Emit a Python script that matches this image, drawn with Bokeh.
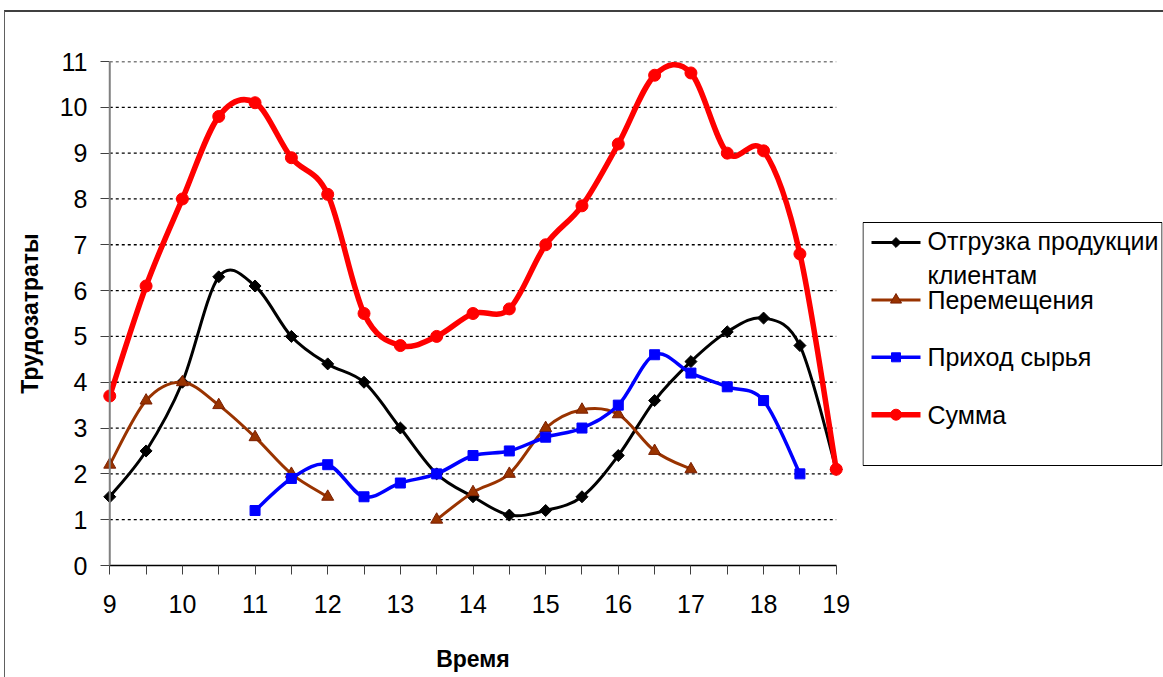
import math
from bokeh.plotting import figure
from bokeh.layouts import row
from bokeh.models import Range1d, FixedTicker, ColumnDataSource, Span
from bokeh.core.properties import value
from bokeh.embed import file_html
from bokeh.resources import INLINE

NaN = float("nan")

# ---- data -------------------------------------------------------------
X = [9, 9.5, 10, 10.5, 11, 11.5, 12, 12.5, 13, 13.5, 14, 14.5, 15, 15.5,
     16, 16.5, 17, 17.5, 18, 18.5, 19]
SHIPMENT = [1.5, 2.5, 4.0, 6.3, 6.1, 5.0, 4.4, 4.0, 3.0, 2.0, 1.5, 1.1, 1.2, 1.5,
            2.4, 3.6, 4.45, 5.1, 5.4, 4.8, 2.1]
MOVES = [2.2, 3.6, 4.0, 3.5, 2.8, 2.0, 1.5, NaN, NaN, 1.0, 1.6, 2.0, 3.0, 3.4,
         3.3, 2.5, 2.1, NaN, NaN, NaN, NaN]
SUPPLY = [NaN, NaN, NaN, NaN, 1.2, 1.9, 2.2, 1.5, 1.8, 2.0, 2.4, 2.5, 2.8, 3.0,
          3.5, 4.6, 4.2, 3.9, 3.6, 2.0, NaN]
TOTAL = [3.7, 6.1, 8.0, 9.8, 10.1, 8.9, 8.1, 5.5, 4.8, 5.0, 5.5, 5.6, 7.0, 7.85,
         9.2, 10.7, 10.75, 9.0, 9.05, 6.8, 2.1]

NAMES = ["Отгрузка продукции\nклиентам", "Перемещения", "Приход сырья", "Сумма"]
X_TICKS = list(range(9, 20))
Y_TICKS = list(range(0, 12))
X_LABEL = "Время"
Y_LABEL = "Трудозатраты"

FONT = "Liberation Sans"

# style per series: line colour, line width, marker, size, angle, fill, edge
STYLES = [
    ("black", 3, "square", 8.5, 45, "black", "black"),
    ("#993300", 3, "triangle", 12, 0, "#993300", "#7a1f00"),
    ("#0000FF", 3.5, "square", 10, 0, "#0000FF", "#0000FF"),
    ("#FF0000", 5.5, "circle", 12, 0, "#FF0000", "#FF0000"),
]

BORDER_TOP, BORDER_BOTTOM, FIG_H = 49, 112, 665


def smooth_segments(xs, ys):
    """Bezier control points (Excel-like smoothing) for each run of valid points."""
    out = dict(x0=[], y0=[], x1=[], y1=[], cx0=[], cy0=[], cx1=[], cy1=[])
    runs, cur = [], []
    for x, y in zip(xs, ys):
        if y is None or math.isnan(y):
            if cur:
                runs.append(cur)
            cur = []
        else:
            cur.append((x, y))
    if cur:
        runs.append(cur)
    for run in runs:
        n = len(run)
        for i in range(n - 1):
            p0 = run[i - 1] if i > 0 else run[i]
            p1, p2 = run[i], run[i + 1]
            p3 = run[i + 2] if i + 2 < n else run[i + 1]
            out["x0"].append(p1[0]); out["y0"].append(p1[1])
            out["x1"].append(p2[0]); out["y1"].append(p2[1])
            out["cx0"].append(p1[0] + (p2[0] - p0[0]) / 6.0)
            out["cy0"].append(p1[1] + (p2[1] - p0[1]) / 6.0)
            out["cx1"].append(p2[0] - (p3[0] - p1[0]) / 6.0)
            out["cy1"].append(p2[1] - (p3[1] - p1[1]) / 6.0)
    return out


def valid_points(xs, ys):
    px = [x for x, y in zip(xs, ys) if not math.isnan(y)]
    py = [y for y in ys if not math.isnan(y)]
    return dict(x=px, y=py)


# ---------------- main chart ----------------
p = figure(width=857, height=FIG_H,
           x_range=Range1d(8.9, 19.1), y_range=Range1d(0, 11),
           output_backend="svg", toolbar_location=None,
           min_border_left=97, min_border_right=19,
           min_border_top=BORDER_TOP, min_border_bottom=BORDER_BOTTOM)
p.outline_line_color = None
p.background_fill_color = "white"
p.border_fill_color = "white"
p.xgrid.visible = False
p.ygrid.visible = False

gy = [t for t in Y_TICKS if t > 0]
p.segment(x0=[X_TICKS[0]] * len(gy), x1=[X_TICKS[-1]] * len(gy), y0=gy, y1=gy,
          line_color="black", line_width=1.3, line_dash="3 3")

xa = p.xaxis[0]
xa.ticker = FixedTicker(ticks=X_TICKS, minor_ticks=[x for x in X if x not in X_TICKS])
xa.bounds = (X_TICKS[0], X_TICKS[-1])
xa.axis_line_color = "black"
xa.axis_line_width = 1.3
xa.major_tick_out = 9
xa.major_tick_in = 0
xa.minor_tick_out = 9
xa.minor_tick_in = 0
xa.major_tick_line_color = "#404040"
xa.minor_tick_line_color = "#404040"
xa.major_label_text_font = FONT
xa.major_label_text_font_size = "25px"
xa.major_label_text_color = "black"
xa.major_label_standoff = 20
xa.axis_label = X_LABEL
xa.axis_label_text_font = FONT
xa.axis_label_text_font_size = "23px"
xa.axis_label_text_font_style = "bold"
xa.axis_label_text_color = "black"
xa.axis_label_standoff = 30

ya = p.yaxis[0]
ya.ticker = FixedTicker(ticks=Y_TICKS, minor_ticks=[])
ya.axis_line_color = None
ya.major_tick_out = 2
ya.major_tick_in = 7
ya.major_tick_line_color = "#404040"
ya.major_label_text_font = FONT
ya.major_label_text_font_size = "25px"
ya.major_label_text_color = "black"
ya.major_label_standoff = 13
ya.axis_label = Y_LABEL
ya.axis_label_text_font = FONT
ya.axis_label_text_font_size = "23px"
ya.axis_label_text_font_style = "bold"
ya.axis_label_text_color = "black"
ya.axis_label_standoff = 14
p.add_layout(Span(location=X_TICKS[0], dimension="height", line_color="#808080", line_width=2))

for ys, (col, lw, mk, ms, ang, fill, edge) in zip([SHIPMENT, MOVES, SUPPLY, TOTAL], STYLES):
    p.bezier(x0="x0", y0="y0", x1="x1", y1="y1", cx0="cx0", cy0="cy0",
             cx1="cx1", cy1="cy1", source=ColumnDataSource(smooth_segments(X, ys)),
             line_color=col, line_width=lw)
    p.scatter(x="x", y="y", source=ColumnDataSource(valid_points(X, ys)),
              marker=mk, size=ms, angle=math.radians(ang),
              fill_color=fill, line_color=edge, line_width=1)

# ---------------- legend panel (pixel coordinates, y down) ----------------
LEG_W = 300
FRAME_H = FIG_H - BORDER_TOP - BORDER_BOTTOM
LEG_TOP, LEG_BOTTOM = 161, 404
lg = figure(width=LEG_W + 1, height=FIG_H,
            x_range=Range1d(0, LEG_W), y_range=Range1d(FRAME_H, 0),
            output_backend="svg", toolbar_location=None,
            x_axis_location=None, y_axis_location=None,
            min_border_left=0, min_border_right=1,
            min_border_top=BORDER_TOP, min_border_bottom=BORDER_BOTTOM)
lg.outline_line_color = None
lg.xgrid.visible = False
lg.ygrid.visible = False
lg.background_fill_color = "white"
lg.border_fill_color = "white"

lg.quad(left=[0.5], right=[LEG_W - 0.5], top=[LEG_TOP], bottom=[LEG_BOTTOM],
        fill_color="white", line_color="black", line_width=1)
row_y = [LEG_TOP + 20 + 57.4 * i for i in range(len(NAMES))]
text_y = [ry + 15.5 * name.count("\n") for ry, name in zip(row_y, NAMES)]
lg.segment(x0=[9] * 4, x1=[58] * 4, y0=row_y, y1=row_y,
           line_color=[s[0] for s in STYLES], line_width=[s[1] for s in STYLES])
lg.scatter(x=[33.5] * 4, y=row_y, marker=["square", "triangle", "square", "circle"],
           size=[7, 11, 9, 11], angle=[math.radians(s[4]) for s in STYLES],
           fill_color=[s[5] for s in STYLES], line_color=[s[6] for s in STYLES])
lg.text(x=[65] * 4, y=text_y, text=NAMES, text_font=value(FONT),
        text_font_size="25px", text_baseline="middle", text_align="left",
        text_line_height=1.2, text_color="black")

layout = row(p, lg, spacing=0)
layout.styles = {"margin-left": "4px", "margin-top": "10px",
                 "border-top": "2px solid #404040", "border-left": "1px solid #606060"}

open("out.html", "w").write(file_html(layout, INLINE))
